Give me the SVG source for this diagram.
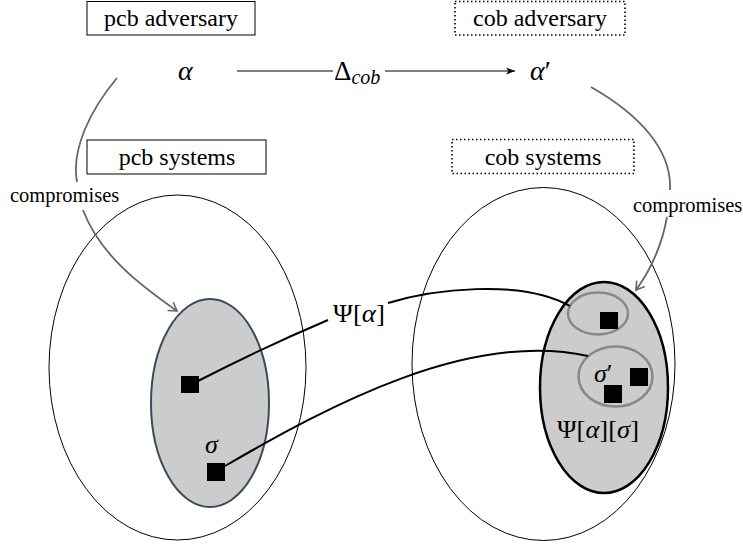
<svg xmlns="http://www.w3.org/2000/svg" width="743" height="551" viewBox="0 0 743 551">
<style>
.box{fill:#fff;stroke:#000;stroke-width:1}
.dot{fill:#fff;stroke:#000;stroke-width:1.6;stroke-dasharray:1.5 2.5}
.lbl{font-family:"Liberation Serif",serif;font-size:24px;fill:#000;text-anchor:middle}
.small{font-family:"Liberation Serif",serif;font-size:20.5px;fill:#000}
.math{font-family:"Liberation Serif",serif;font-size:26px;fill:#000}
.it{font-style:italic}
.big{fill:none;stroke:#000;stroke-width:1}
.sq{fill:#000}
.sub{fill:none;stroke:#888;stroke-width:2.5}
.conn{fill:none;stroke:#000;stroke-width:2}
.comp{fill:none;stroke:#666;stroke-width:1.8}
</style>
<defs>
<marker id="open" markerWidth="12" markerHeight="12" refX="10" refY="6" orient="auto" markerUnits="userSpaceOnUse">
<path d="M2,1 L10,6 L2,11" fill="none" stroke="#666" stroke-width="1.6"/>
</marker>
<marker id="solid" markerWidth="10" markerHeight="10" refX="9" refY="5" orient="auto" markerUnits="userSpaceOnUse">
<path d="M0,1.5 L9,5 L0,8.5 L2.5,5 Z" fill="#000"/>
</marker>
</defs>

<g id="pcb-adversary">
<rect class="box" x="87" y="1.5" width="168" height="33.5"/>
<text class="lbl" x="171" y="26">pcb adversary</text>
</g>
<g id="cob-adversary">
<rect class="dot" x="455" y="1.5" width="170" height="33.5"/>
<text class="lbl" x="540" y="26">cob adversary</text>
</g>
<g id="alpha">
<text class="math it" x="178" y="80" style="font-size:28px">α</text>
</g>
<g id="alpha-prime">
<text class="math" x="530" y="80" style="font-size:28px"><tspan class="it">α</tspan>′</text>
</g>
<g id="pcb-systems">
<rect class="box" x="87" y="140" width="179" height="34"/>
<text class="lbl" x="177" y="165">pcb systems</text>
</g>
<g id="cob-systems">
<rect class="dot" x="452" y="139.5" width="182" height="34"/>
<text class="lbl" x="543" y="165">cob systems</text>
</g>

<g id="pcb-set">
<ellipse class="big" cx="177.5" cy="367.5" rx="128.5" ry="172.5"/>
</g>
<g id="cob-set">
<ellipse class="big" cx="543.5" cy="364" rx="131.5" ry="176.5"/>
</g>
<g id="pcb-compromised">
<ellipse cx="210" cy="403" rx="59" ry="104" fill="#ccc" stroke="#3b4b5c" stroke-width="2"/>
<rect class="sq" x="181" y="376" width="18" height="17"/>
<rect class="sq" x="207" y="463" width="18" height="18"/>
<text class="math it" x="205" y="453">σ</text>
</g>
<g id="cob-compromised">
<ellipse cx="604" cy="387.5" rx="64" ry="105.5" fill="#ccc" stroke="#000" stroke-width="2.5"/>
<text class="math" x="557" y="438" textLength="82" lengthAdjust="spacingAndGlyphs">Ψ[<tspan class="it">α</tspan>][<tspan class="it">σ</tspan>]</text>
</g>
<g id="psi-alpha-image">
<ellipse class="sub" cx="598" cy="313.5" rx="30" ry="21"/>
<rect class="sq" x="600" y="312" width="18" height="17"/>
</g>
<g id="sigma-prime">
<ellipse class="sub" cx="615.5" cy="376.5" rx="37" ry="30"/>
<text class="math" x="594" y="382"><tspan class="it">σ</tspan>′</text>
<rect class="sq" x="630" y="368" width="18" height="18"/>
<rect class="sq" x="604" y="385" width="18" height="18"/>
</g>
<g id="psi-alpha-label">
<text class="math" x="333" y="322" textLength="52" lengthAdjust="spacingAndGlyphs">Ψ[<tspan class="it">α</tspan>]</text>
</g>

<g id="connectors">
<path d="M237,71 H333" fill="none" stroke="#000" stroke-width="1"/>
<path d="M385,71 H515" fill="none" stroke="#000" stroke-width="1" marker-end="url(#solid)"/>
<text class="math" x="334" y="80" style="font-size:27px">Δ<tspan class="it" style="font-size:20px" dy="4">cob</tspan></text>
<path class="comp" d="M117,78 C 90,110 71,150 77,182 M83,210 C 100,255 140,285 177,311" marker-end="url(#open)"/>
<text class="small" x="10" y="202">compromises</text>
<path class="comp" d="M591,87 C 640,115 672,150 670,190 M667,217 C 662,245 652,268 636,290" marker-end="url(#open)"/>
<text class="small" x="633" y="212">compromises</text>
<path class="conn" d="M198,381 Q 262,348 328,320"/>
<path class="conn" d="M388,303 C 430,290 520,278 570,306"/>
<path class="conn" d="M225,466 C 330,405 470,330 588,356"/>
</g>
</svg>
